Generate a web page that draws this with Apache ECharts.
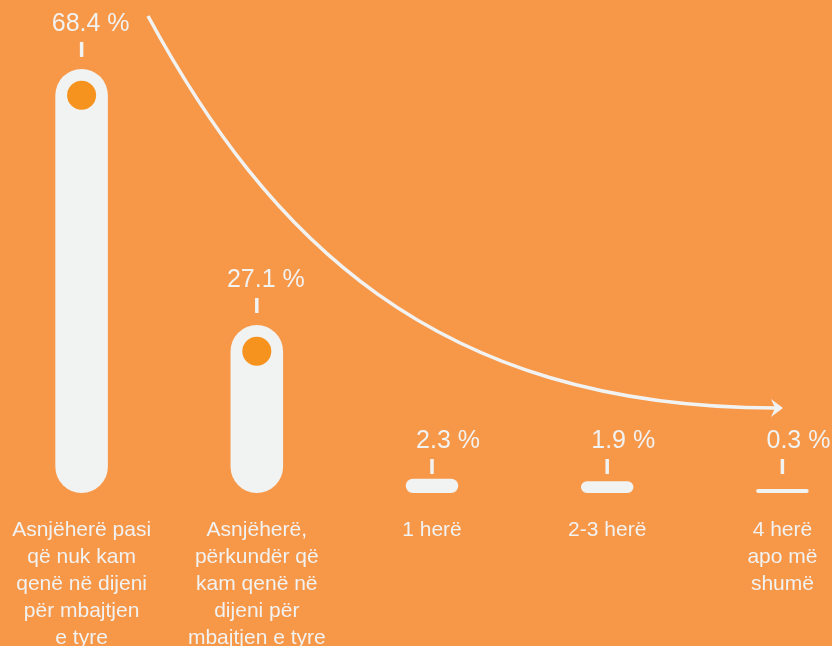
<!DOCTYPE html>
<html>
<head>
<meta charset="utf-8">
<script src="https://cdn.jsdelivr.net/npm/echarts@6/dist/echarts.min.js"></script>
<style>
html,body{margin:0;padding:0;background:#F79748;}
#c{width:832px;height:646px;}
</style>
</head>
<body>
<div id="c"></div>
<script>
const categories = [
  "Asnjëherë pasi\nqë nuk kam\nqenë në dijeni\npër mbajtjen\ne tyre",
  "Asnjëherë,\npërkundër që\nkam qenë në\ndijeni për\nmbajtjen e tyre",
  "1 herë",
  "2-3 herë",
  "4 herë\napo më\nshumë"
];
const values = [68.4, 27.1, 2.3, 1.9, 0.3];
const valueLabels = ["68.4 %", "27.1 %", "2.3 %", "1.9 %", "0.3 %"];

const LIGHT = '#F1F2F2';
const DOT = '#F6931F';

const chart = echarts.init(document.getElementById('c'));
chart.setOption({
  backgroundColor: '#F79748',
  animation: false,
  grid: { left: -6, right: -38, top: 59, bottom: 153, containLabel: false, outerBoundsMode: 'none' },
  xAxis: {
    type: 'category',
    data: categories,
    axisLine: { show: false },
    axisTick: { show: false },
    axisLabel: {
      interval: 0,
      margin: 24,
      color: LIGHT,
      fontFamily: 'Liberation Sans, Arial, sans-serif',
      fontSize: 21,
      lineHeight: 27,
      verticalAlign: 'top',
      hideOverlap: false
    }
  },
  yAxis: {
    type: 'value', min: 0, max: 70, show: false, splitLine: { show: false }
  },
  series: [{
    type: 'custom',
    data: values.map((v, i) => [i, v]),
    renderItem: function (params, api) {
      const idx = api.value(0);
      const v = api.value(1);
      const top = api.coord([idx, v]);
      const base = api.coord([idx, 0]);
      const bw = api.size([1, 0])[0] * 0.3;
      const cx = base[0];
      let h = Math.max(base[1] - top[1], 4);
      const y0 = base[1] - h;
      const r = Math.min(bw / 2, h / 2);
      const children = [{
        type: 'rect',
        shape: { x: cx - bw / 2, y: y0, width: bw, height: h, r: r },
        style: { fill: LIGHT }
      }];
      if (h > bw) {
        children.push({
          type: 'circle',
          shape: { cx: cx, cy: y0 + bw / 2, r: 14.5 },
          style: { fill: DOT }
        });
      }
      const tickBottom = h < 30 ? base[1] - 19 : y0 - 12;
      children.push({
        type: 'rect',
        shape: { x: cx - 1.75, y: tickBottom - 15, width: 3.5, height: 15 },
        style: { fill: LIGHT }
      });
      children.push({
        type: 'text',
        style: {
          text: valueLabels[idx],
          x: cx + 48,
          y: tickBottom - 15 - 18,
          align: 'right',
          verticalAlign: 'middle',
          fill: LIGHT,
          font: '25px "Liberation Sans", Arial, sans-serif'
        }
      });
      return { type: 'group', children: children };
    }
  }],
  graphic: [{
    type: 'bezierCurve',
    shape: { x1: 148, y1: 16, cpx1: 267, cpy1: 235, cpx2: 432, cpy2: 408, x2: 776, y2: 408 },
    style: { stroke: LIGHT, lineWidth: 3.5, fill: null }
  }, {
    type: 'polygon',
    shape: { points: [[783, 408], [771, 399], [775, 408], [771, 417]] },
    style: { fill: LIGHT }
  }]
});
</script>
</body>
</html>
